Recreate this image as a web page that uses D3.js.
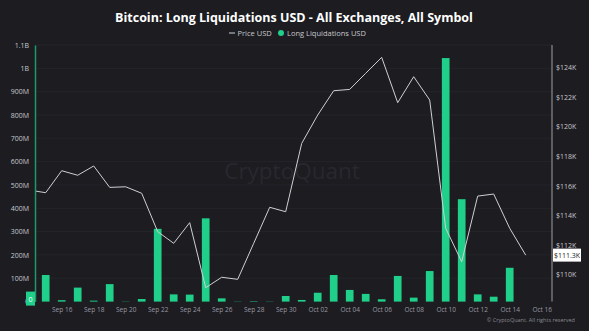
<!DOCTYPE html>
<html><head><meta charset="utf-8">
<script src="https://cdn.jsdelivr.net/npm/d3@7"></script>
<style>
html,body{margin:0;padding:0;background:#1c1c21;}
svg{display:block;}
</style></head>
<body>
<svg id="chart" width="589" height="331"></svg>
<script>
const dates = ["2025-09-14","2025-09-15","2025-09-16","2025-09-17","2025-09-18","2025-09-19","2025-09-20","2025-09-21","2025-09-22","2025-09-23","2025-09-24","2025-09-25","2025-09-26","2025-09-27","2025-09-28","2025-09-29","2025-09-30","2025-10-01","2025-10-02","2025-10-03","2025-10-04","2025-10-05","2025-10-06","2025-10-07","2025-10-08","2025-10-09","2025-10-10","2025-10-11","2025-10-12","2025-10-13","2025-10-14","2025-10-15"];
const priceUSD = [115700,115530,117020,116710,117340,115890,115930,115490,112890,112100,113500,109090,109800,109660,112100,114540,114240,118870,120790,122440,122530,123620,124700,121630,123390,121810,113120,110850,115300,115440,113120,111300];
const longLiqUSD = [0,114e6,6e6,60e6,4e6,75e6,1e6,11e6,312e6,31e6,30e6,357e6,14e6,1e6,2e6,1e6,24e6,7e6,38e6,114e6,50e6,33e6,10e6,110e6,17e6,131e6,1044e6,439e6,31e6,21e6,145e6,0];
const leftTicks = [0,100e6,200e6,300e6,400e6,500e6,600e6,700e6,800e6,900e6,1e9,1.1e9];
const leftTickLabels = ["0","100M","200M","300M","400M","500M","600M","700M","800M","900M","1B","1.1B"];
const rightTicks = [110000,112000,114000,116000,118000,120000,122000,124000];
const rightTickLabels = ["$110K","$112K","$114K","$116K","$118K","$120K","$122K","$124K"];
const xTickDates = ["2025-09-16","2025-09-18","2025-09-20","2025-09-22","2025-09-24","2025-09-26","2025-09-28","2025-09-30","2025-10-02","2025-10-04","2025-10-06","2025-10-08","2025-10-10","2025-10-12","2025-10-14","2025-10-16"];
const title = "Bitcoin: Long Liquidations USD - All Exchanges, All Symbol";

const parse = d3.utcParse("%Y-%m-%d");
const data = dates.map((d,i)=>({date:parse(d), price:priceUSD[i], liq:longLiqUSD[i]}));

const svg = d3.select("#chart");
const W=589,H=331;
const plotL=35, plotR=552, plotT=45, plotB=301.6;
const font = "'Open Sans', 'Noto Sans', sans-serif";

svg.append("rect").attr("width",W).attr("height",H).attr("fill","#1c1c21");

const x = d3.scaleUtc().domain([parse("2025-09-14"), parse("2025-10-16")]).range([29.7, 541.7]);
const yL = d3.scaleLinear().domain([0,1.1e9]).range([plotB, plotT]);
const yR = d3.scaleLinear().domain([110000,124000]).range([274.3, 67.7]);

svg.append("defs").append("clipPath").attr("id","clip")
  .append("rect").attr("x",plotL).attr("y",0).attr("width",plotR-plotL).attr("height",plotB+1);

// gridlines
svg.append("g").selectAll("line").data(leftTicks.slice(1)).join("line")
  .attr("x1",plotL).attr("x2",plotR).attr("y1",d=>yL(d)).attr("y2",d=>yL(d))
  .attr("stroke","#24242a").attr("stroke-width",1);

// watermark
svg.append("text").attr("x",292).attr("y",179).attr("text-anchor","middle")
  .attr("font-family",font).attr("font-size",22.5).attr("fill","#28282e").text("CryptoQuant");

// bars
const bw = 7.7;
svg.append("g").attr("clip-path","url(#clip)").selectAll("rect").data(data).join("rect")
  .attr("x",d=>x(d.date)-bw/2).attr("width",bw)
  .attr("y",d=>yL(d.liq)).attr("height",d=>yL(0)-yL(d.liq))
  .attr("fill","#20cf8a");

// price line
svg.append("path").datum(data).attr("clip-path","url(#clip)")
  .attr("d", d3.line().x(d=>x(d.date)).y(d=>yR(d.price)))
  .attr("fill","none").attr("stroke","#d0d0d4").attr("stroke-width",1);

// left axis
const axL = d3.axisLeft(yL).tickValues(leftTicks).tickFormat((d,i)=>leftTickLabels[i]).tickSize(0).tickPadding(6);
const gL = svg.append("g").attr("transform",`translate(${plotL},0)`).call(axL);
gL.select(".domain").attr("stroke","#1d9a6c").attr("stroke-width",1.5);
gL.selectAll("text").attr("font-family",font).attr("font-size",7).attr("fill","#c8c8cc");

// right axis
const axR = d3.axisRight(yR).tickValues(rightTicks).tickFormat((d,i)=>rightTickLabels[i]).tickSize(0).tickPadding(4);
const gR = svg.append("g").attr("transform",`translate(${plotR},0)`).call(axR);
gR.select(".domain").remove();
gR.append("line").attr("x1",0).attr("x2",0).attr("y1",plotT).attr("y2",plotB).attr("stroke","#8a8a90").attr("stroke-width",1.2);
gR.selectAll("text").attr("font-family",font).attr("font-size",7).attr("fill","#c8c8cc");

// bottom axis
const axB = d3.axisBottom(x).tickValues(xTickDates.map(parse)).tickFormat(d3.utcFormat("%b %d")).tickSize(0).tickPadding(6);
const gB = svg.append("g").attr("transform",`translate(0,${plotB})`).call(axB);
gB.select(".domain").remove();
gB.selectAll("text").attr("font-family",font).attr("font-size",6.5).attr("fill","#9a9aa0");

// last value labels
const last = data[data.length-1];
const lg = svg.append("g");
lg.append("rect").attr("x",26).attr("y",yL(last.liq)-10).attr("width",9).attr("height",14).attr("fill","#20cf8a");
lg.append("text").attr("x",30.5).attr("y",yL(last.liq)).attr("dy","0.0em").attr("text-anchor","middle")
  .attr("font-family",font).attr("font-size",7).attr("fill","#ffffff").text(d3.format("~s")(last.liq));
const rg = svg.append("g");
rg.append("rect").attr("x",553).attr("y",yR(last.price)-6.5).attr("width",28).attr("height",13).attr("fill","#ffffff");
rg.append("text").attr("x",567).attr("y",yR(last.price)).attr("dy","0.35em").attr("text-anchor","middle")
  .attr("font-family",font).attr("font-size",7).attr("fill","#1c1c21").text("$"+(last.price/1000).toFixed(1)+"K");

// title
svg.append("text").attr("x",294).attr("y",22).attr("text-anchor","middle")
  .attr("font-family",font).attr("font-weight","bold").attr("font-size",12.5).attr("fill","#ffffff").text(title);

// legend
const leg = svg.append("g").attr("font-family",font).attr("font-size",7.5).attr("fill","#c8c8cc");
leg.append("line").attr("x1",229).attr("x2",235).attr("y1",33).attr("y2",33).attr("stroke","#d0d0d4").attr("stroke-width",1);
leg.append("text").attr("x",237.5).attr("y",33).attr("dy","0.35em").text("Price USD");
leg.append("circle").attr("cx",281).attr("cy",33).attr("r",3).attr("fill","#20cf8a");
leg.append("text").attr("x",287).attr("y",33).attr("dy","0.35em").text("Long Liquidations USD");

// copyright
svg.append("text").attr("x",575).attr("y",322).attr("text-anchor","end")
  .attr("font-family",font).attr("font-size",5.5).attr("fill","#8a8a90").text("© CryptoQuant. All rights reserved");
</script>
</body></html>
